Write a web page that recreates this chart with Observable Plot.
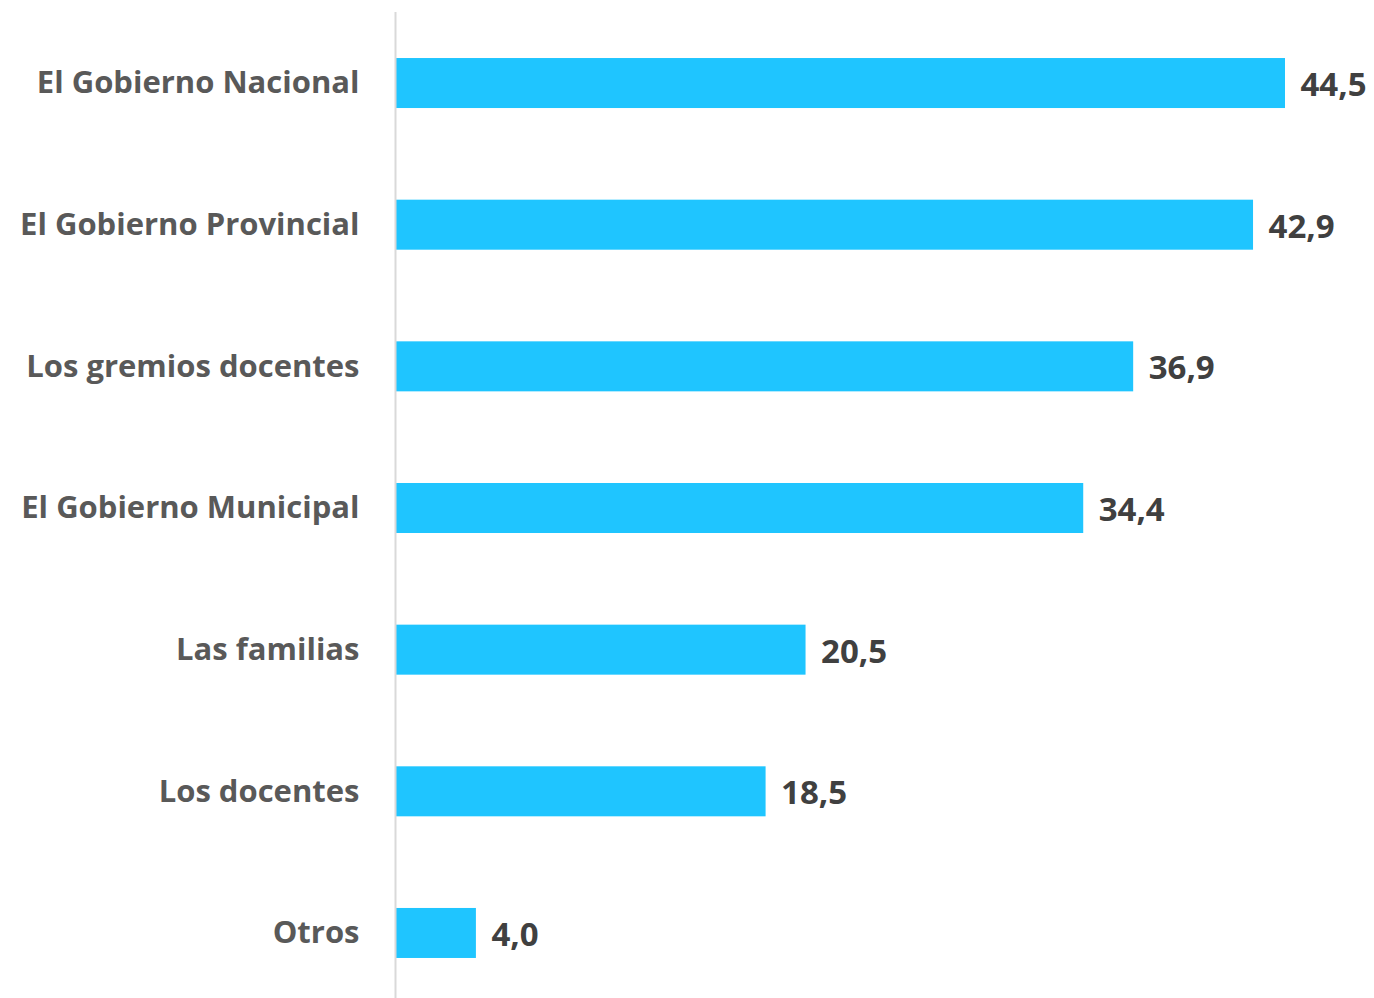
<!DOCTYPE html>
<html>
<head>
<meta charset="utf-8">
<script src="https://cdn.jsdelivr.net/npm/d3@7"></script>
<script src="https://cdn.jsdelivr.net/npm/@observablehq/plot@0.6"></script>
<style>
html,body{margin:0;padding:0;background:#fff;}
#chart{width:1374px;height:998px;}
</style>
</head>
<body>
<div id="chart"></div>
<script>
const categories = ["El Gobierno Nacional","El Gobierno Provincial","Los gremios docentes","El Gobierno Municipal","Las familias","Los docentes","Otros"];
const values = [44.5, 42.9, 36.9, 34.4, 20.5, 18.5, 4.0];

const data = categories.map((c, i) => ({cat: c, val: values[i]}));
const fmt = v => v.toFixed(1).replace(".", ",");

const chart = Plot.plot({
  width: 1374,
  height: 998,
  marginTop: 12,
  marginBottom: 0,
  marginLeft: 0,
  marginRight: 0,
  style: {fontFamily: "'Open Sans', sans-serif", background: "#fff"},
  x: {domain: [0, 44.5], range: [396, 1285], axis: null},
  y: {domain: categories, range: [12.2, 1003.8], paddingInner: 0.647, paddingOuter: 0.3235, round: false, axis: null},
  marks: [
    Plot.barX(data, {x: "val", y: "cat", fill: "#1FC5FF"}),
    Plot.ruleX([0], {stroke: "#d9d9d9", strokeWidth: 2, dx: -1}),
    Plot.text(data, {x: 0, y: "cat", text: "cat", textAnchor: "end", dx: -37, fontSize: 31, fontWeight: 700, fill: "#595959"}),
    Plot.text(data, {x: "val", y: "cat", text: d => fmt(d.val), textAnchor: "start", dx: 15, dy: 2, fontSize: 33, fontWeight: 700, fill: "#404040"})
  ]
});
document.getElementById("chart").appendChild(chart);
</script>
</body>
</html>
